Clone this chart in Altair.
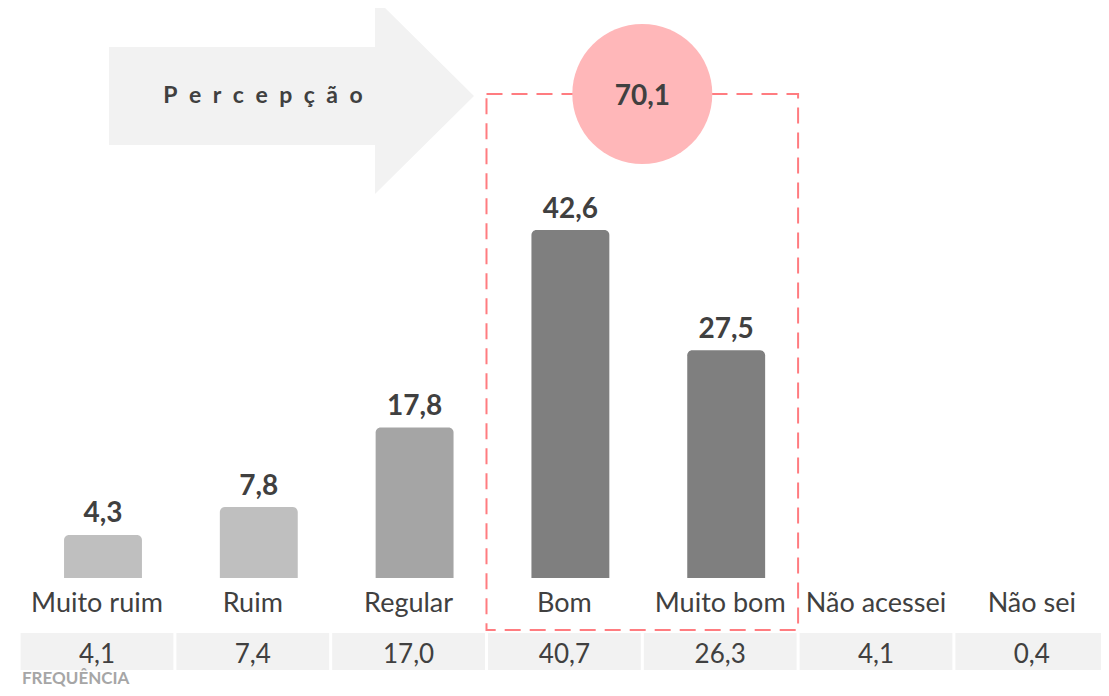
import altair as alt
import pandas as pd

# ---- data ----
categories = ["Muito ruim", "Ruim", "Regular", "Bom", "Muito bom", "Não acessei", "Não sei"]
percepcao = [4.3, 7.8, 17.8, 42.6, 27.5, None, None]
frequencia = [4.1, 7.4, 17.0, 40.7, 26.3, 4.1, 0.4]
positivos = ["Bom", "Muito bom"]
arrow_label = "\u2002".join("Percepção")
table_label = "FREQUÊNCIA"

# ---- styles ----
palette = ["#bfbfbf", "#bfbfbf", "#a5a5a5", "#7f7f7f", "#7f7f7f", "#7f7f7f", "#7f7f7f"]
TXT = "#404040"
FONT = "Lato"

def fmt(v):
    return f"{v:.1f}".replace(".", ",")

df = pd.DataFrame({
    "idx": list(range(len(categories))),
    "cat": categories,
    "freq": frequencia,
    "flabel": [fmt(v) for v in frequencia],
    "c1": [i - 0.5 for i in range(len(categories))],
    "c2": [i + 0.5 for i in range(len(categories))],
})

bar_rows = [(i, c, v) for i, (c, v) in enumerate(zip(categories, percepcao)) if v is not None]
dbar = pd.DataFrame({
    "idx": [r[0] for r in bar_rows],
    "cat": [r[1] for r in bar_rows],
    "perc": [r[2] for r in bar_rows],
    "plabel": [fmt(r[2]) for r in bar_rows],
    "x1": [r[0] - 0.25 for r in bar_rows],
    "x2": [r[0] + 0.25 for r in bar_rows],
})

pos_idx = [categories.index(c) for c in positivos]
total = round(sum(percepcao[i] for i in pos_idx), 1)
dgrp = pd.DataFrame({
    "b1": [min(pos_idx) - 0.5],
    "b2": [max(pos_idx) + 0.5],
    "mid": [(min(pos_idx) + max(pos_idx)) / 2],
    "label": [fmt(total)],
})

W, H = 1093, 680
xs = alt.Scale(domain=[-0.5712, 6.4442], nice=False, zero=False)
ys = alt.Scale(domain=[-14.925, 70.503], nice=False, zero=False)

def X(f):
    return alt.X(f, scale=xs, axis=None)

def Y(f):
    return alt.Y(f, scale=ys, axis=None)

bars = alt.Chart(dbar).mark_bar(
    xOffset=6, x2Offset=6, cornerRadiusTopLeft=5, cornerRadiusTopRight=5
).encode(
    x=X("x1:Q"),
    x2="x2:Q",
    y=Y("perc:Q"),
    y2=alt.value(570),
    color=alt.Color("cat:N", scale=alt.Scale(domain=categories, range=palette), legend=None),
)

vlabels = alt.Chart(dbar).mark_text(
    dx=6, dy=-12.5, baseline="alphabetic", fontSize=28, fontWeight="bold", font=FONT, color=TXT
).encode(
    x=X("idx:Q"),
    y=Y("perc:Q"),
    text="plabel:N",
)

catlabels = alt.Chart(df).mark_text(baseline="alphabetic", fontSize=27, font=FONT, color=TXT).encode(
    x=X("idx:Q"),
    y=alt.value(604),
    text="cat:N",
)

cells = alt.Chart(df).mark_rect(color="#f2f2f2", xOffset=1.5, x2Offset=-1.5).encode(
    x=X("c1:Q"),
    x2="c2:Q",
    y=alt.value(625),
    y2=alt.value(662),
)

celltext = alt.Chart(df).mark_text(baseline="alphabetic", fontSize=26, font=FONT, color=TXT).encode(
    x=X("idx:Q"),
    y=alt.value(655),
    text="flabel:N",
)

freqtitle = alt.Chart(pd.DataFrame({"t": [table_label]})).mark_text(
    align="left", baseline="alphabetic", fontSize=17, fontWeight="bold", font=FONT, color="#a6a6a6"
).encode(x=alt.value(14), y=alt.value(676), text="t:N")

box = alt.Chart(dgrp).mark_rect(
    filled=False, stroke="#ff7c80", strokeWidth=2, strokeDash=[16, 9]
).encode(
    x=X("b1:Q"),
    x2="b2:Q",
    y=alt.value(86),
    y2=alt.value(622),
)

circle = alt.Chart(dgrp).mark_point(
    shape="circle", filled=True, size=19600, color="#ffb7b9", opacity=1
).encode(
    x=X("mid:Q"),
    y=alt.value(86),
)

circletext = alt.Chart(dgrp).mark_text(
    baseline="alphabetic", fontSize=28, fontWeight="bold", font=FONT, color=TXT
).encode(
    x=X("mid:Q"),
    y=alt.value(97),
    text="label:N",
)

arrow_path = "M-1,-0.2685 L0.4575,-0.2685 L0.4575,-0.537 L1,0 L0.4575,0.537 L0.4575,0.2685 L-1,0.2685 Z"
arrow = alt.Chart(pd.DataFrame({"t": [arrow_label]})).mark_point(
    shape=arrow_path, filled=True, size=133225, color="#f2f2f2", opacity=1
).encode(x=alt.value(283.5), y=alt.value(88))

arrowtext = alt.Chart(pd.DataFrame({"t": [arrow_label]})).mark_text(
    baseline="alphabetic", fontSize=23, fontWeight="bold", font=FONT, color=TXT
).encode(x=alt.value(255), y=alt.value(95), text="t:N")

chart = alt.layer(
    cells, celltext, freqtitle, box, circle, circletext, bars, vlabels, catlabels, arrow, arrowtext
).properties(width=W, height=H, padding=0, autosize="none").configure_view(stroke=None)

chart.save("out.html", embed_options={"renderer": "svg", "actions": False})
